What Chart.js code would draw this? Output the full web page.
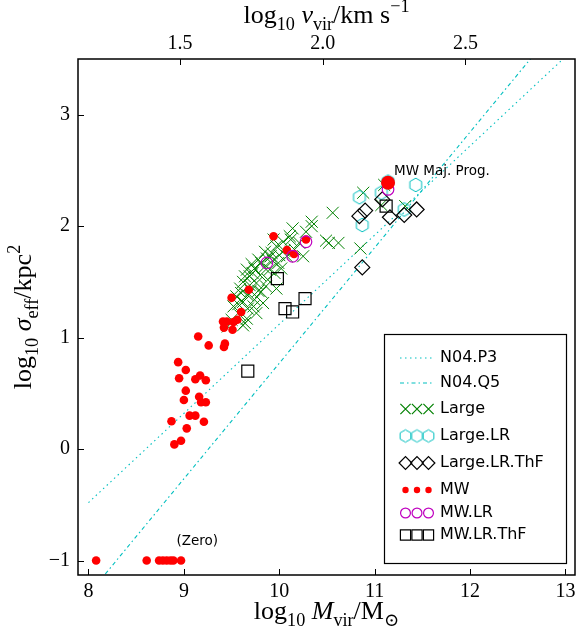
<!DOCTYPE html>
<html>
<head>
<meta charset="utf-8">
<script src="https://cdn.jsdelivr.net/npm/chart.js@4.4.0/dist/chart.umd.min.js"></script>
<style>
  html, body { margin: 0; padding: 0; background: #fff; }
  canvas { display: block; }
</style>
</head>
<body>
<canvas id="chart" width="577" height="632"></canvas>
<script>
const xTicks = [8, 9, 10, 11, 12, 13];
const yTicks = [-1, 0, 1, 2, 3];
const vTicks = [1.5, 2.0, 2.5];

// N04 relations, two end points each
const p3Mass = [8.0, 13.1];
const p3Sigma = [-0.48, 3.6];
const q5Mass = [8.1, 12.7];
const q5Sigma = [-1.2, 3.57];

const largeMass = [10.88, 10.56, 10.49, 10.52, 10.62, 10.85, 11.10, 11.07, 11.32, 10.34,
  10.34, 10.28, 10.14, 10.11, 10.21, 10.04, 9.97, 10.16, 10.25, 9.92,
  10.08, 9.87, 9.81, 9.99, 9.74, 9.90, 9.80, 9.69, 9.88, 9.62,
  9.76, 9.97, 9.59, 9.81, 9.67, 9.55, 9.74, 9.62, 9.83, 9.52,
  9.67, 9.76, 9.59, 9.66, 9.50, 9.62, 9.46, 9.66, 9.64, 9.71,
  9.85, 9.95, 10.02, 9.93, 9.70, 9.86, 10.05, 9.78, 9.72, 9.84,
  9.64, 9.78, 9.91, 9.69, 9.57, 9.73, 10.00, 9.94, 10.12, 9.60];
const largeSigma = [2.30, 2.12, 1.87, 1.85, 1.85, 1.80, 2.37, 2.19, 2.18, 2.04,
  2.00, 1.95, 1.98, 1.91, 1.85, 1.86, 1.82, 1.79, 1.73, 1.76,
  1.73, 1.71, 1.67, 1.67, 1.62, 1.61, 1.56, 1.55, 1.52, 1.50,
  1.49, 1.44, 1.44, 1.41, 1.38, 1.37, 1.34, 1.32, 1.31, 1.28,
  1.26, 1.22, 1.20, 1.17, 1.16, 1.11, 1.10, 1.61, 1.13, 1.66,
  1.77, 1.58, 1.62, 1.69, 1.42, 1.46, 1.78, 1.70, 1.58, 1.63,
  1.55, 1.42, 1.73, 1.47, 1.30, 1.28, 1.74, 1.88, 1.88, 1.40];

const largeLRMass = [10.84, 10.87, 11.07, 11.14, 11.43, 11.31];
const largeLRSigma = [2.26, 2.01, 2.30, 2.40, 2.37, 2.15];

const largeThFMass = [10.90, 10.84, 11.08, 11.16, 11.31, 11.44, 10.87];
const largeThFSigma = [2.14, 2.09, 2.24, 2.08, 2.10, 2.15, 1.63];

// sigma = 0 haloes are plotted at -1
const mwMass = [8.08, 8.61, 8.74, 8.78, 8.82, 8.86, 8.89, 8.97,
  9.15, 9.26, 9.43, 9.42, 9.41, 9.45, 9.42, 9.51, 9.52, 9.56, 9.60, 9.50, 9.68,
  8.94, 8.95, 9.02, 9.12, 9.17, 9.23, 9.02, 9.00, 9.16, 9.18, 9.23, 9.06, 9.12,
  8.87, 9.21, 9.03, 8.97, 8.90, 9.94, 10.08, 10.155, 10.28];
const mwSigma = [-1, -1, -1, -1, -1, -1, -1, -1,
  1.01, 0.93, 0.946, 0.916, 1.144, 1.144, 1.09, 1.07, 1.14, 1.16, 1.23, 1.357, 1.43,
  0.78, 0.635, 0.71, 0.626, 0.66, 0.617, 0.524, 0.44, 0.47, 0.42, 0.42, 0.30, 0.30,
  0.25, 0.245, 0.186, 0.075, 0.042, 1.91, 1.785, 1.75, 1.88];

const mwLRMass = [9.87, 10.14, 10.28, 11.14];
const mwLRSigma = [1.67, 1.73, 1.86, 2.33];

const mwThFMass = [9.98, 10.06, 10.14, 10.27, 9.67, 11.12];
const mwThFSigma = [1.53, 1.26, 1.23, 1.35, 0.70, 2.18];

const majProgMass = [11.14];
const majProgSigma = [2.39];

const legendLabels = ['N04.P3', 'N04.Q5', 'Large', 'Large.LR', 'Large.LR.ThF', 'MW', 'MW.LR', 'MW.LR.ThF'];

// top axis: log v_vir from log M_vir
const vFromM = m => 1.5 + (m - 8.958) / 2.994;

const GREEN = '#008000', CYAN = '#00bfbf', MAGENTA = '#bf00bf', RED = '#ff0000';
const SERIF = '"Liberation Serif", "DejaVu Serif", serif';
const SANS = '"DejaVu Sans", sans-serif';

function pts(xs, ys) {
  return xs.map((x, i) => ({ x: x, y: ys[i] }));
}

function hexImage(r, color, lw) {
  const s = Math.ceil(2 * r + 2 * lw + 2);
  const c = document.createElement('canvas');
  c.width = s; c.height = s;
  const g = c.getContext('2d');
  g.strokeStyle = color;
  g.lineWidth = lw;
  g.beginPath();
  for (let i = 0; i < 6; i++) {
    const a = -Math.PI / 2 + i * Math.PI / 3;
    const px = s / 2 + r * Math.cos(a), py = s / 2 + r * Math.sin(a);
    if (i) g.lineTo(px, py); else g.moveTo(px, py);
  }
  g.closePath();
  g.stroke();
  return c;
}
const hex = hexImage(6.8, CYAN, 1);
const hexSmall = hexImage(6.2, CYAN, 1);

const styles = [
  { line: true, color: CYAN, dash: [1.5, 3.5] },
  { line: true, color: CYAN, dash: [4, 3, 1.5, 3] },
  { pointStyle: 'crossRot', radius: 8.5, border: GREEN, fill: 'transparent', bw: 1 },
  { pointStyle: hex, radius: 6.8, border: CYAN, fill: 'transparent', bw: 1 },
  { pointStyle: 'rectRot', radius: 7.5, border: '#000', fill: 'transparent', bw: 1.2 },
  { pointStyle: 'circle', radius: 4.3, border: RED, fill: RED, bw: 0 },
  { pointStyle: 'circle', radius: 5.8, border: MAGENTA, fill: 'transparent', bw: 1.2 },
  { pointStyle: 'rect', radius: 8.5, border: '#000', fill: 'transparent', bw: 1.2 }
];

function pointSet(label, data, st, order) {
  return {
    label: label, data: data, order: order, showLine: false,
    pointStyle: st.pointStyle, pointRadius: st.radius, pointHoverRadius: st.radius,
    pointBorderColor: st.border, pointBackgroundColor: st.fill, pointBorderWidth: st.bw,
    borderColor: st.border, backgroundColor: st.fill
  };
}

function lineSet(label, data, st, order) {
  return {
    label: label, data: data, order: order, showLine: true,
    borderColor: st.color, borderWidth: 1.1, borderDash: st.dash,
    pointRadius: 0, pointHoverRadius: 0, fill: false
  };
}

function richText(ctx, parts, x, y, size) {
  const fontFor = p => {
    const small = p[1] === 'sub' || p[1] === 'sup';
    const s = small ? size * 0.7 : size;
    return (p[1] === 'i' ? 'italic ' : '') + s + 'px ' + SERIF;
  };
  let w = 0;
  parts.forEach(p => { ctx.font = fontFor(p); w += ctx.measureText(p[0]).width; });
  let cx = x - w / 2;
  ctx.textBaseline = 'alphabetic';
  ctx.textAlign = 'left';
  parts.forEach(p => {
    ctx.font = fontFor(p);
    let dy = 0;
    if (p[1] === 'sub') dy = size * 0.28;
    if (p[1] === 'sup') dy = -size * 0.42;
    ctx.fillText(p[0], cx, y + dy);
    cx += ctx.measureText(p[0]).width;
  });
}

const decor = {
  id: 'decor',
  afterDraw(chart) {
    const ctx = chart.ctx, a = chart.chartArea, sx = chart.scales.x, sy = chart.scales.y, sv = chart.scales.x2;
    ctx.save();
    ctx.strokeStyle = '#000';
    ctx.lineWidth = 1;
    ctx.beginPath();
    xTicks.forEach(v => {
      const px = Math.round(sx.getPixelForValue(v)) + 0.5;
      ctx.moveTo(px, a.bottom); ctx.lineTo(px, a.bottom - 6);
    });
    vTicks.forEach(v => {
      const px = Math.round(sv.getPixelForValue(v)) + 0.5;
      ctx.moveTo(px, a.top); ctx.lineTo(px, a.top + 6);
    });
    yTicks.forEach(v => {
      const py = Math.round(sy.getPixelForValue(v)) + 0.5;
      ctx.moveTo(a.left, py); ctx.lineTo(a.left + 6, py);
    });
    ctx.stroke();
    ctx.lineWidth = 1.5;
    ctx.strokeRect(a.left, a.top, a.right - a.left, a.bottom - a.top);

    // axis titles
    ctx.fillStyle = '#000';
    const cxm = (a.left + a.right) / 2, cym = (a.top + a.bottom) / 2;
    richText(ctx, [['log', 'r'], ['10', 'sub'], [' ', 'r'], ['M', 'i'], ['vir', 'sub'], ['/M', 'r'], ['\u2299', 'sub']], cxm, 619, 26);
    richText(ctx, [['log', 'r'], ['10', 'sub'], [' ', 'r'], ['v', 'i'], ['vir', 'sub'], ['/km s', 'r'], ['\u22121', 'sup']], cxm, 23, 26);
    ctx.save();
    ctx.translate(31, cym);
    ctx.rotate(-Math.PI / 2);
    richText(ctx, [['log', 'r'], ['10', 'sub'], [' ', 'r'], ['\u03c3', 'i'], ['eff', 'sub'], ['/kpc', 'r'], ['2', 'sup']], 0, 0, 26);
    ctx.restore();

    // annotations
    ctx.font = '13.5px ' + SANS;
    ctx.textAlign = 'left';
    ctx.textBaseline = 'middle';
    ctx.fillText('MW Maj. Prog.', sx.getPixelForValue(majProgMass[0]) + 6, sy.getPixelForValue(majProgSigma[0]) - 11);
    ctx.textAlign = 'center';
    ctx.fillText('(Zero)', sx.getPixelForValue(9.14), sy.getPixelForValue(-0.83));

    // legend
    const box = { l: 384, t: 334, r: 566, b: 563 };
    ctx.lineWidth = 1.2;
    ctx.fillStyle = '#fff';
    ctx.fillRect(box.l, box.t, box.r - box.l, box.b - box.t);
    ctx.strokeRect(box.l + 0.5, box.t + 0.5, box.r - box.l, box.b - box.t);
    const rowY = [358, 383, 409, 436, 463, 490, 513, 535];
    const mx = [405.5, 417, 428.5];
    legendLabels.forEach((lab, i) => {
      const st = styles[i], y = rowY[i];
      if (st.line) {
        ctx.save();
        ctx.strokeStyle = st.color;
        ctx.lineWidth = 1.1;
        ctx.setLineDash(st.dash);
        ctx.beginPath();
        ctx.moveTo(400, y); ctx.lineTo(432, y);
        ctx.stroke();
        ctx.restore();
      } else {
        mx.forEach(x => {
          ctx.save();
          ctx.strokeStyle = st.border;
          ctx.fillStyle = st.fill;
          let r = st.radius * 0.85, ps = st.pointStyle;
          if (i === 5) r = 3.2;
          if (i === 3) ps = hexSmall;
          if (i === 7) r = 7.2;
          Chart.helpers.drawPoint(ctx, { pointStyle: ps, radius: r, borderWidth: st.bw, rotation: 0 }, x, y);
          ctx.restore();
        });
      }
      ctx.fillStyle = '#000';
      ctx.font = '16px ' + SANS;
      ctx.textAlign = 'left';
      ctx.textBaseline = 'middle';
      ctx.fillText(lab, 440, y);
    });
    ctx.restore();
  }
};

function noEdgePad(s) {
  s.paddingLeft = 0; s.paddingRight = 0; s.paddingTop = 0; s.paddingBottom = 0;
}

const chart = new Chart(document.getElementById('chart'), {
  type: 'scatter',
  data: {
    datasets: [
      lineSet('N04.P3', pts(p3Mass, p3Sigma), styles[0], 9),
      lineSet('N04.Q5', pts(q5Mass, q5Sigma), styles[1], 8),
      pointSet('Large', pts(largeMass, largeSigma), styles[2], 7),
      pointSet('Large.LR', pts(largeLRMass, largeLRSigma), styles[3], 6),
      pointSet('Large.LR.ThF', pts(largeThFMass, largeThFSigma), styles[4], 5),
      pointSet('MW', pts(mwMass, mwSigma), styles[5], 4),
      pointSet('MW.LR', pts(mwLRMass, mwLRSigma), styles[6], 3),
      pointSet('MW.LR.ThF', pts(mwThFMass, mwThFSigma), styles[7], 2),
      pointSet('MW Maj. Prog.', pts(majProgMass, majProgSigma),
        { pointStyle: 'circle', radius: 7, border: RED, fill: RED, bw: 0 }, 1)
    ]
  },
  options: {
    responsive: false,
    devicePixelRatio: 1,
    animation: false,
    events: [],
    layout: { autoPadding: false, padding: { left: 0, right: 2, top: 0, bottom: 0 } },
    plugins: { legend: { display: false }, tooltip: { enabled: false } },
    scales: {
      x: {
        type: 'linear', position: 'bottom', min: 7.89, max: 13.1,
        grid: { display: false, drawTicks: false },
        border: { display: false },
        afterBuildTicks: s => { s.ticks = xTicks.map(v => ({ value: v })); },
        afterFit: s => { s.height = 57; noEdgePad(s); },
        ticks: { color: '#000', padding: 5, font: { family: SERIF, size: 20 }, callback: v => String(v) }
      },
      x2: {
        type: 'linear', position: 'top', min: vFromM(7.89), max: vFromM(13.1),
        grid: { display: false, drawTicks: false },
        border: { display: false },
        afterBuildTicks: s => { s.ticks = vTicks.map(v => ({ value: v })); },
        afterFit: s => { s.height = 59; noEdgePad(s); },
        ticks: { color: '#000', padding: 3, font: { family: SERIF, size: 20 }, callback: v => v.toFixed(1) }
      },
      y: {
        type: 'linear', position: 'left', min: -1.13, max: 3.5,
        grid: { display: false, drawTicks: false },
        border: { display: false },
        afterBuildTicks: s => { s.ticks = yTicks.map(v => ({ value: v })); },
        afterFit: s => { s.width = 78; noEdgePad(s); },
        ticks: { color: '#000', padding: 8, font: { family: SERIF, size: 20 },
          callback: v => v < 0 ? '\u2212' + Math.abs(v) : String(v) }
      }
    }
  },
  plugins: [decor]
});
</script>
</body>
</html>
